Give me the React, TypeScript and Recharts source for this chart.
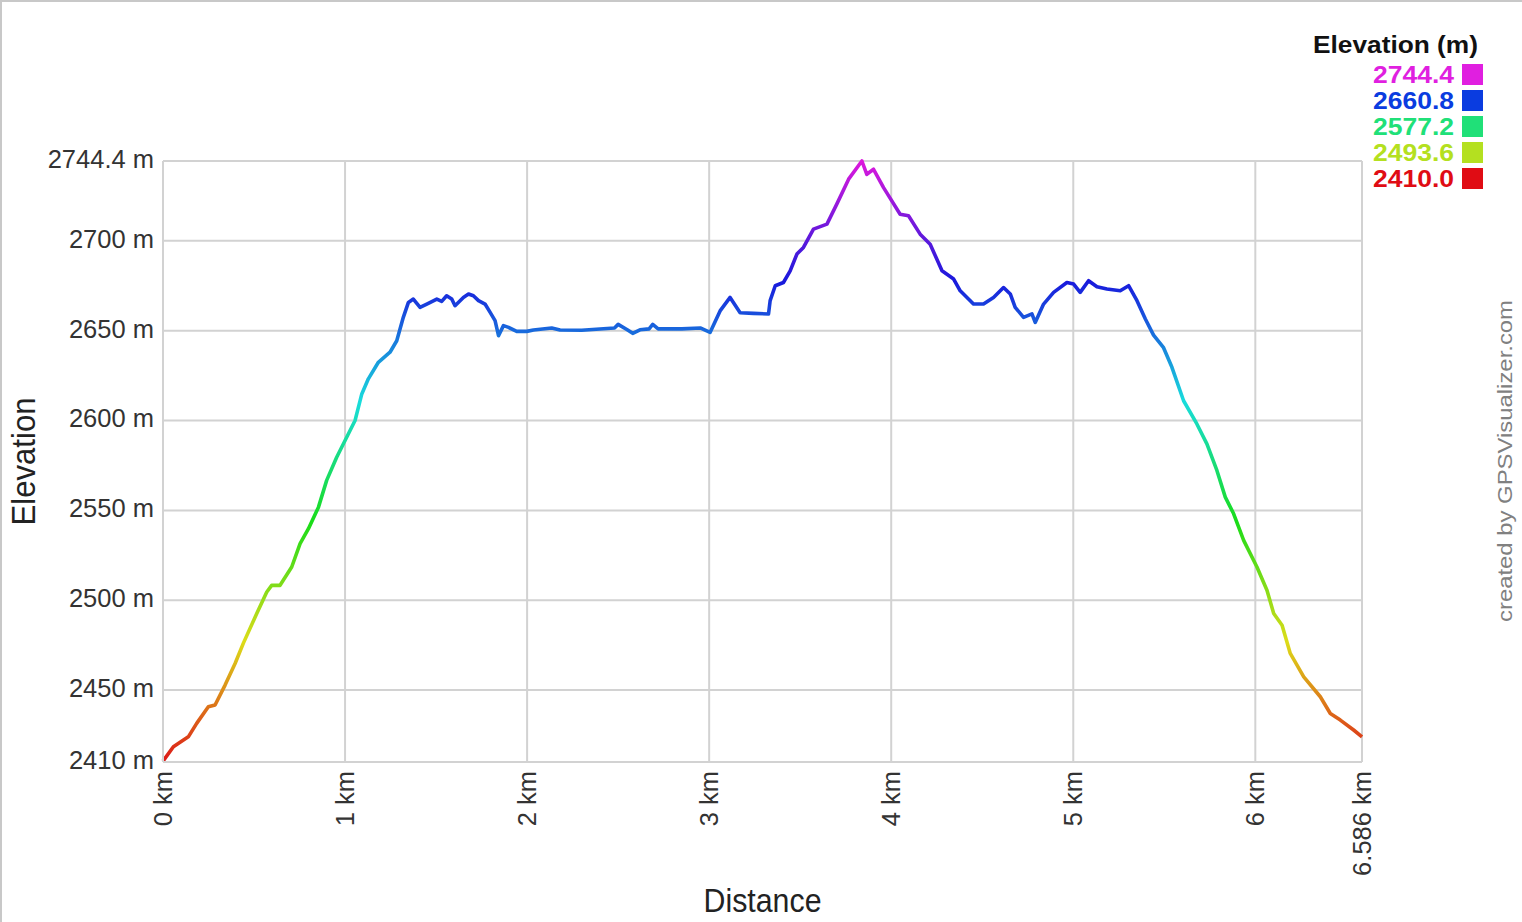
import { LineChart, Line, XAxis, YAxis, CartesianGrid, Label } from 'recharts';

// track profile (km, m)
const distKm = [
  0, 0.057, 0.139, 0.185, 0.249, 0.286, 0.341, 0.396, 0.441, 0.515,
  0.57, 0.597, 0.643, 0.707, 0.753, 0.799, 0.854, 0.899, 0.954, 1.009,
  1.055, 1.092, 1.128, 1.183, 1.247, 1.284, 1.32, 1.348, 1.375, 1.412,
  1.449, 1.504, 1.531, 1.558, 1.586, 1.604, 1.65, 1.678, 1.705, 1.733,
  1.769, 1.797, 1.824, 1.843, 1.87, 1.898, 1.943, 1.998, 2.035, 2.135,
  2.181, 2.3, 2.48, 2.5, 2.55, 2.58, 2.62, 2.67, 2.69, 2.72,
  2.85, 2.951, 3.005, 3.06, 3.115, 3.17, 3.243, 3.326, 3.335, 3.363,
  3.408, 3.445, 3.482, 3.518, 3.573, 3.647, 3.701, 3.766, 3.839, 3.866,
  3.903, 3.958, 4.049, 4.095, 4.159, 4.214, 4.279, 4.343, 4.379, 4.452,
  4.507, 4.562, 4.617, 4.654, 4.681, 4.727, 4.773, 4.791, 4.837, 4.892,
  4.965, 5.002, 5.038, 5.084, 5.13, 5.185, 5.258, 5.304, 5.35, 5.396,
  5.441, 5.496, 5.542, 5.606, 5.679, 5.734, 5.789, 5.835, 5.881, 5.936,
  6.009, 6.064, 6.101, 6.147, 6.192, 6.266, 6.357, 6.412, 6.467, 6.54,
  6.586,
];

const elevM = [
  2410.5, 2418.5, 2424, 2431.5, 2440.7, 2441.7, 2452.8, 2464.8, 2476, 2492.6,
  2504.6, 2508.3, 2508.3, 2518.5, 2531.5, 2539.8, 2551.8, 2566.7, 2579.6, 2590.7,
  2600, 2614.8, 2623.2, 2632.4, 2638, 2644.4, 2657.4, 2665.7, 2667.6, 2663,
  2664.8, 2667.6, 2666.3, 2669.4, 2667.6, 2663.9, 2668.5, 2670.4, 2669.4, 2666.7,
  2664.8, 2660.2, 2655.6, 2647.2, 2652.8, 2651.8, 2649.6, 2649.6, 2650.4, 2651.5,
  2650.4, 2650.2, 2651.5, 2653.5, 2650.5, 2648.5, 2650.5, 2651, 2653.5, 2651,
  2651, 2651.5, 2649, 2661, 2668.5, 2660, 2659.6, 2659.3, 2666.7, 2675,
  2676.8, 2683.3, 2692.6, 2696.3, 2706.5, 2709.3, 2720.4, 2734.3, 2744.4, 2737,
  2739.8, 2729.6, 2714.8, 2713.9, 2703.7, 2698.1, 2683.3, 2678.7, 2672.2, 2664.8,
  2664.8, 2668.5, 2674, 2670.4, 2663, 2657.4, 2659.3, 2654.6, 2664.8, 2671.3,
  2676.8, 2675.9, 2671.3, 2677.8, 2674.4, 2673.2, 2672.2, 2675, 2666.7, 2656.5,
  2647.5, 2640.5, 2629.6, 2611, 2598.1, 2587, 2572.2, 2557.4, 2548.1, 2533.3,
  2518.5, 2505.6, 2492.6, 2486.1, 2470.4, 2457.4, 2446.3, 2437, 2433.3, 2427.8,
  2424,
];

const xTicks = [0, 1, 2, 3, 4, 5, 6, 6.586];
const yTicks = [2410, 2450, 2500, 2550, 2600, 2650, 2700, 2744.4];

const legendValues = ['2744.4', '2660.8', '2577.2', '2493.6', '2410.0'];
const legendColors = ['#e01fe0', '#0a3ce0', '#20e078', '#b4e020', '#e00c14'];

const data = distKm.map((d, i) => ({ dist: d, elev: elevM[i] }));

const W = 1522;
const H = 922;
const PLOT_TOP = 161;
const PLOT_BOTTOM = 762;
const FONT = '"Liberation Sans", Arial, Helvetica, sans-serif';

// hue runs red (low) -> magenta (high)
const hueStops = [300, 270, 240, 210, 180, 150, 120, 90, 60, 30, 0];

const YTick = (props: any) => {
  const { x, y, payload } = props;
  return (
    <text x={x - 1} y={y} dy="0.27em" textAnchor="end" fontSize={25.5} fontFamily={FONT} fill="#333">
      {payload.value} m
    </text>
  );
};

const XTick = (props: any) => {
  const { x, y, payload } = props;
  return (
    <text
      transform={`translate(${x},${y + 1}) rotate(-90)`}
      dy="0.355em"
      textAnchor="end"
      fontSize={25.5}
      fontFamily={FONT}
      fill="#333"
    >
      {payload.value} km
    </text>
  );
};

const XTitle = (props: any) => {
  const vb = props.viewBox;
  return (
    <text
      x={vb.x + vb.width / 2}
      y={vb.y + 150}
      textAnchor="middle"
      fontSize={34}
      textLength={118}
      lengthAdjust="spacingAndGlyphs"
      fontFamily={FONT}
      fill="#222"
    >
      Distance
    </text>
  );
};

const YTitle = (props: any) => {
  const vb = props.viewBox;
  return (
    <text
      transform={`translate(35,${vb.y + vb.height / 2}) rotate(-90)`}
      textAnchor="middle"
      fontSize={34}
      textLength={128}
      lengthAdjust="spacingAndGlyphs"
      fontFamily={FONT}
      fill="#222"
    >
      Elevation
    </text>
  );
};

export default function App() {
  return (
    <div style={{ position: 'absolute', left: 0, top: 0, width: W, height: H, background: '#fff' }}>
      <LineChart
        width={W}
        height={H}
        data={data}
        margin={{ top: PLOT_TOP, right: 160, bottom: 0, left: 23 }}
      >
        <defs>
          <linearGradient id="elevGrad" gradientUnits="userSpaceOnUse" x1="0" y1={PLOT_TOP} x2="0" y2={PLOT_BOTTOM}>
            {hueStops.map((h) => (
              <stop key={h} offset={1 - h / 300} stopColor={`hsl(${h}, 80%, 48%)`} />
            ))}
          </linearGradient>
        </defs>
        <CartesianGrid stroke="#d2d2d2" strokeWidth={2} />
        <XAxis
          dataKey="dist"
          type="number"
          domain={[0, 6.586]}
          ticks={xTicks}
          interval={0}
          height={160}
          axisLine={{ stroke: '#d2d2d2', strokeWidth: 2 }}
          tickLine={false}
          tick={<XTick />}
        >
          <Label content={<XTitle />} />
        </XAxis>
        <YAxis
          type="number"
          domain={[2410, 2744.4]}
          ticks={yTicks}
          interval={0}
          width={140}
          axisLine={{ stroke: '#d2d2d2', strokeWidth: 2 }}
          tickLine={false}
          tick={<YTick />}
        >
          <Label content={<YTitle />} />
        </YAxis>
        <Line
          type="linear"
          dataKey="elev"
          stroke="url(#elevGrad)"
          strokeWidth={3.6}
          strokeLinejoin="round"
          dot={false}
          activeDot={false}
          isAnimationActive={false}
        />
      </LineChart>

      {/* colour legend + credit */}
      <svg width={W} height={H} style={{ position: 'absolute', left: 0, top: 0, pointerEvents: 'none' }}>
        <text x={1478} y={53} textAnchor="end" fontSize={23} fontWeight="bold" textLength={165} lengthAdjust="spacingAndGlyphs" fontFamily={FONT} fill="#111">
          Elevation (m)
        </text>
        {legendValues.map((v, i) => (
          <g key={v}>
            <text x={1454} y={83 + i * 26} textAnchor="end" fontSize={23} fontWeight="bold" textLength={81} lengthAdjust="spacingAndGlyphs" fontFamily={FONT} fill={legendColors[i]}>
              {v}
            </text>
            <rect x={1462} y={64 + i * 26} width={21} height={21} fill={legendColors[i]} />
          </g>
        ))}
        <text
          transform="translate(1512,461) rotate(-90)"
          textAnchor="middle"
          fontSize={21}
          textLength={322}
          lengthAdjust="spacingAndGlyphs"
          fontFamily={FONT}
          fill="#808080"
        >
          created by GPSVisualizer.com
        </text>
      </svg>

      <div style={{ position: 'absolute', left: 0, top: 0, width: W, height: 2, background: '#c8c8c8' }} />
      <div style={{ position: 'absolute', left: 0, top: 0, width: 2, height: H, background: '#c8c8c8' }} />
    </div>
  );
}
